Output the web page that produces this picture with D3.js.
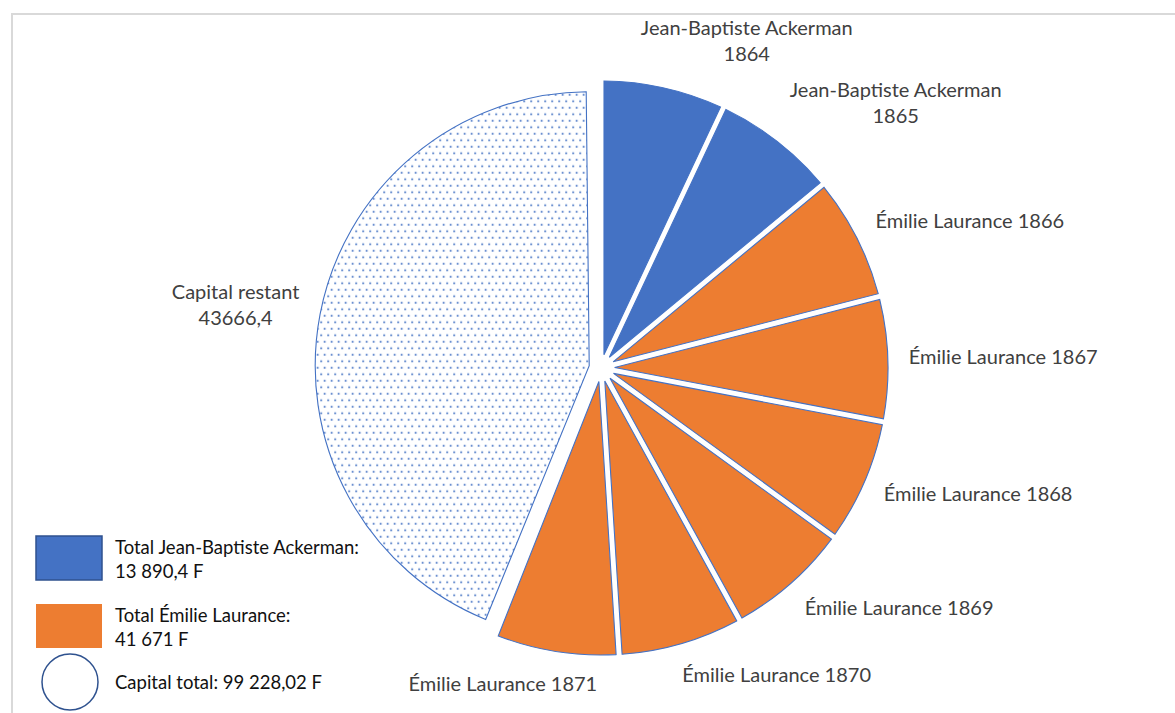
<!DOCTYPE html>
<html>
<head>
<meta charset="utf-8">
<script src="https://cdn.jsdelivr.net/npm/d3@7"></script>
<style>
  body { margin: 0; background: #fff; }
  svg { display: block; font-family: Lato, "Open Sans", sans-serif; }
</style>
</head>
<body>
<div id="chart-container"></div>
<script>
// slices, clockwise from 12 o'clock
const sliceLabels = [
  ["Jean-Baptiste Ackerman", "1864"],
  ["Jean-Baptiste Ackerman", "1865"],
  ["Émilie Laurance 1866"],
  ["Émilie Laurance 1867"],
  ["Émilie Laurance 1868"],
  ["Émilie Laurance 1869"],
  ["Émilie Laurance 1870"],
  ["Émilie Laurance 1871"],
  ["Capital restant", "43666,4"]
]
const sliceValues = [6945.2, 6945.2, 6945.17, 6945.17, 6945.17, 6945.17, 6945.17, 6945.17, 43666.4]
const sliceGroups = ["jba", "jba", "el", "el", "el", "el", "el", "el", "rest"]

const legendGroups = ["jba", "el", "total"]
const legendLabels = [
  ["Total Jean-Baptiste Ackerman:", "13 890,4 F"],
  ["Total Émilie Laurance:", "41 671 F"],
  ["Capital total: 99 228,02 F"]
]

document.addEventListener('DOMContentLoaded', function(){

    const width = 1175
    const height = 713
    const cx = 601, cy = 368
    const radius = 287
    const restRadius = 274
    const restExplode = 12
    const gap = 6

    const color = d3.scaleOrdinal()
        .domain(["jba", "el", "rest"])
        .range(["#4472C4", "#ED7D31", "url(#dots)"])

    const svg = d3.select('#chart-container')
        .append('svg')
        .attr('width', width)
        .attr('height', height)

    const pat = svg.append('defs').append('pattern')
        .attr('id', 'dots')
        .attr('patternUnits', 'userSpaceOnUse')
        .attr('width', 7).attr('height', 13)
    pat.append('rect').attr('width', 7).attr('height', 13).attr('fill', '#fff')
    pat.append('circle').attr('cx', 1.5).attr('cy', 2).attr('r', 1).attr('fill', '#4472C4')
    pat.append('circle').attr('cx', 5).attr('cy', 8.5).attr('r', 1).attr('fill', '#4472C4')

    // chart frame
    svg.append('path')
        .attr('d', `M12,${height} V14 H${width}`)
        .attr('fill', 'none')
        .attr('stroke', '#d9d9d9')
        .attr('stroke-width', 2)

    const data = sliceValues.map((v, i) => ({value: v, label: sliceLabels[i], group: sliceGroups[i]}))

    const pie = d3.pie().sort(null).value(d => d.value)
    const arcs = pie(data)

    const outerR = d => d.data.group === "rest" ? restRadius : radius
    const explode = d => d.data.group === "rest" ? restExplode : 0
    // inner radius where the padded edges of a thin slice meet -> pointed tip
    const innerR = d => d.data.group === "rest" ? 0
        : 0.99 * (gap / 2) / Math.sin((d.endAngle - d.startAngle) / 2)

    const arc = d3.arc()
        .innerRadius(innerR)
        .outerRadius(outerR)
        .padAngle(gap / radius)
        .padRadius(radius)

    const mid = d => (d.startAngle + d.endAngle) / 2

    const g = svg.append('g').attr('transform', `translate(${cx},${cy})`)

    g.selectAll('path.slice')
        .data(arcs)
        .join('path')
        .attr('class', 'slice')
        .attr('transform', d => `translate(${explode(d) * Math.sin(mid(d))},${-explode(d) * Math.cos(mid(d))})`)
        .attr('d', arc)
        .attr('fill', d => color(d.data.group))
        .attr('stroke', '#4472C4')
        .attr('stroke-width', 1.1)

    // data labels, placed outside the slice like Excel's best fit
    const lineH = 26
    const clamp = v => Math.max(-1, Math.min(1, v))
    const labels = g.selectAll('text.lbl')
        .data(arcs)
        .join('text')
        .attr('class', 'lbl')
        .attr('text-anchor', 'middle')
        .attr('fill', '#404040')
        .style('font-size', '20px')

    labels.each(function(d){
        const t = d3.select(this)
        d.data.label.forEach((s, i) => {
            t.append('tspan').attr('x', 0).attr('dy', i === 0 ? 0 : lineH).text(s)
        })
        const bb = this.getBBox()
        const a = mid(d)
        const r = outerR(d) + explode(d) + 21
        const px = r * Math.sin(a), py = -r * Math.cos(a)
        const h = d.data.label.length * lineH
        const bx = px + bb.width / 2 * clamp(Math.sin(a) * 3.4)
        const by = py + h / 2 * -Math.cos(a)
        // first baseline from box centre
        t.attr('transform', `translate(${bx},${by - h / 2 + 19})`)
    })

    // legend
    const legend = svg.append('g').attr('transform', 'translate(36,536)')
    const item = legend.selectAll('g')
        .data(legendGroups)
        .join('g')
        .attr('transform', (d, i) => `translate(0,${i * 68})`)

    item.filter(d => d !== "total").append('rect')
        .attr('width', 66).attr('height', 44)
        .attr('fill', d => color(d))
        .attr('stroke', d => d === "jba" ? '#2F528F' : 'none')
        .attr('stroke-width', 1.5)

    item.filter(d => d === "total").append('circle')
        .attr('cx', 34).attr('cy', 10).attr('r', 28)
        .attr('fill', '#fff')
        .attr('stroke', '#2F528F')
        .attr('stroke-width', 1.5)

    item.append('text')
        .attr('fill', '#111')
        .style('font-size', '18.5px')
        .attr('transform', (d, i) => `translate(79,${i === 2 ? 17 : 18})`)
        .selectAll('tspan')
        .data((d, i) => legendLabels[i])
        .join('tspan')
        .attr('x', 0)
        .attr('dy', (d, i) => i === 0 ? 0 : 24)
        .text(d => d)
})
</script>
</body>
</html>
